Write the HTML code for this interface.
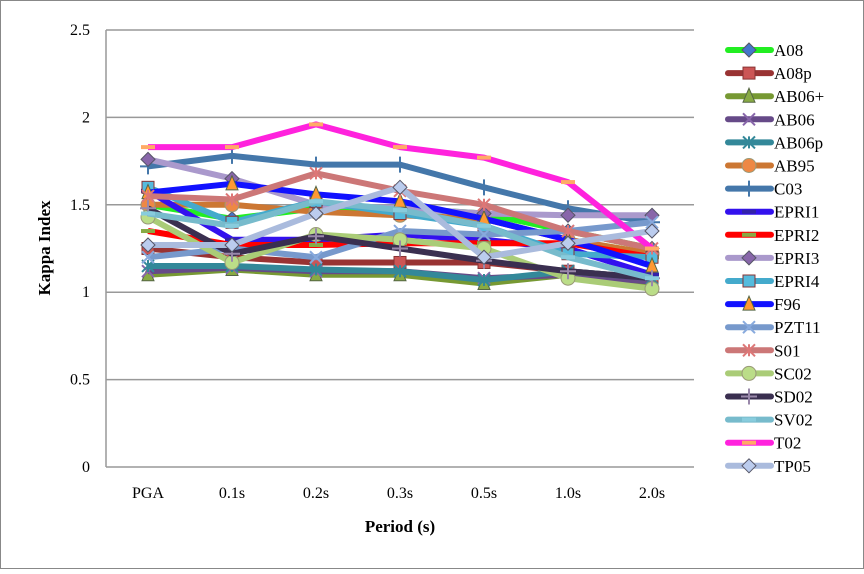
<!DOCTYPE html>
<html><head><meta charset="utf-8">
<style>
body{margin:0;background:#fff;}
svg text{font-family:"Liberation Serif",serif;}
</style></head>
<body>
<svg id="chart" width="864" height="569" viewBox="0 0 864 569" xmlns="http://www.w3.org/2000/svg">
<rect x="0.5" y="0.5" width="863" height="568" fill="#fff" stroke="#888"/>
<g id="grid"></g>
<g id="series"></g>
<g id="axes"></g>
<g id="legend"></g>
</svg>
<script>
const categories=["PGA","0.1s","0.2s","0.3s","0.5s","1.0s","2.0s"];
const yTicks=[0,0.5,1,1.5,2,2.5];
const yTickLabels=["0","0.5","1","1.5","2","2.5"];
const seriesNames=["A08","A08p","AB06+","AB06","AB06p","AB95","C03","EPRI1","EPRI2","EPRI3","EPRI4","F96","PZT11","S01","SC02","SD02","SV02","T02","TP05"];
const sA08=[1.50,1.42,1.48,1.48,1.45,1.35,1.25];
const sA08p=[1.25,1.20,1.17,1.17,1.17,1.12,1.08];
const sAB06plus=[1.10,1.13,1.10,1.10,1.05,1.10,1.04];
const sAB06=[1.12,1.14,1.12,1.12,1.08,1.10,1.06];
const sAB06p=[1.15,1.15,1.13,1.12,1.07,1.12,1.08];
const sAB95=[1.50,1.50,1.46,1.44,1.42,1.30,1.22];
const sC03=[1.72,1.78,1.73,1.73,1.60,1.48,1.40];
const sEPRI1=[1.58,1.30,1.30,1.33,1.30,1.25,1.10];
const sEPRI2=[1.35,1.27,1.27,1.28,1.28,1.28,1.20];
const sEPRI3=[1.76,1.65,1.50,1.48,1.45,1.44,1.44];
const sEPRI4=[1.60,1.40,1.52,1.45,1.38,1.22,1.20];
const sF96=[1.57,1.62,1.56,1.52,1.42,1.30,1.15];
const sPZT11=[1.20,1.25,1.20,1.35,1.33,1.35,1.40];
const sS01=[1.55,1.53,1.68,1.58,1.50,1.35,1.25];
const sSC02=[1.43,1.17,1.33,1.30,1.25,1.08,1.02];
const sSD02=[1.48,1.22,1.32,1.25,1.18,1.12,1.08];
const sSV02=[1.45,1.38,1.52,1.47,1.38,1.20,1.08];
const sT02=[1.83,1.83,1.96,1.83,1.77,1.63,1.25];
const sTP05=[1.27,1.27,1.45,1.60,1.20,1.28,1.35];
const seriesValues=[sA08,sA08p,sAB06plus,sAB06,sAB06p,sAB95,sC03,sEPRI1,sEPRI2,sEPRI3,sEPRI4,sF96,sPZT11,sS01,sSC02,sSD02,sSV02,sT02,sTP05];
const colors=["#22ee22","#993333","#779933","#664a88","#338899","#cc7733","#4477aa","#3311ee","#ff0000","#aa99cc","#44aacc","#1111ff","#7799cc","#cc7777","#aacc77","#3a2f50","#77bbcc","#ff22dd","#aabbdd"];
const markers=["diamond","square","triangle","x","star","circle","plus","dash","dash","diamond","square","triangle","x","star","circle","plus","dash","dash","diamond"];
const mcol=["#4477cc","#cc5555","#88aa44","#8866aa","#338899","#ee8844","#4477aa","#3322aa","#88aa44","#8866aa","#55bbdd","#ff9933","#88aadd","#dd7777","#bbdd88","#9988aa","#88ccdd","#ffaa66","#bbccee"];
const NS="http://www.w3.org/2000/svg";
const x0=106,x1=694,yTop=30,yBot=467,yMax=2.5;
function xPos(i){return x0+(x1-x0)*(i+0.5)/categories.length;}
function yPos(v){return yBot-(v/yMax)*(yBot-yTop);}
function mk(tag,attrs,parent){const e=document.createElementNS(NS,tag);for(const k in attrs)e.setAttribute(k,attrs[k]);parent.appendChild(e);return e;}
const grid=document.getElementById('grid'),axes=document.getElementById('axes'),ser=document.getElementById('series'),leg=document.getElementById('legend');
yTicks.forEach((t,i)=>{
 const g=mk('line',{x1:x0,x2:x1,y1:yPos(t),y2:yPos(t),stroke:'#999','stroke-width':1.5},grid);
 
 
 const l=mk('text',{x:x0-16,y:yPos(t)+5,'text-anchor':'end','font-size':16,fill:'#000'},axes);
 l.textContent=yTickLabels[i];
 
 
});
const ya=mk('line',{x1:x0,x2:x0,y1:yTop,y2:yBot,stroke:'#999','stroke-width':1.5},axes);


categories.forEach((c,i)=>{
 const l=mk('text',{x:xPos(i),y:yBot+31,'text-anchor':'middle','font-size':16},axes);
 l.textContent=c;
 
 
});
const xt=mk('text',{x:400,y:532,'text-anchor':'middle','font-size':17,'font-weight':'bold'},axes);
xt.textContent='Period (s)';


const yt=mk('text',{x:0,y:0,'text-anchor':'middle','font-size':17,'font-weight':'bold',transform:'translate(50,248) rotate(-90)'},axes);
yt.textContent='Kappa Index';


function marker(type,cx,cy,col,lc,parent){
 const s=6;let e;
 if(type==='diamond')e=mk('polygon',{points:`${cx},${cy-s-1} ${cx+s+1},${cy} ${cx},${cy+s+1} ${cx-s-1},${cy}`,fill:col,stroke:'#556'},parent);
 else if(type==='square')e=mk('rect',{x:cx-s,y:cy-s,width:2*s,height:2*s,fill:col,stroke:'#833'},parent);
 else if(type==='triangle')e=mk('polygon',{points:`${cx},${cy-s-2} ${cx+s},${cy+s} ${cx-s},${cy+s}`,fill:col,stroke:'#564'},parent);
 else if(type==='circle')e=mk('circle',{cx:cx,cy:cy,r:s+1,fill:col,stroke:'#997'},parent);
 else if(type==='x')e=mk('path',{d:`M${cx-s} ${cy-s}L${cx+s} ${cy+s}M${cx-s} ${cy+s}L${cx+s} ${cy-s}`,stroke:col,'stroke-width':2},parent);
 else if(type==='star')e=mk('path',{d:`M${cx-s} ${cy-s}L${cx+s} ${cy+s}M${cx-s} ${cy+s}L${cx+s} ${cy-s}M${cx} ${cy-s}L${cx} ${cy+s}`,stroke:col,'stroke-width':2},parent);
 else if(type==='plus')e=mk('path',{d:`M${cx-s-2} ${cy}L${cx+s+2} ${cy}M${cx} ${cy-s-2}L${cx} ${cy+s+2}`,stroke:col,'stroke-width':2},parent);
 else e=mk('rect',{x:cx-7,y:cy-2,width:14,height:4,fill:col},parent);
 return e;
}
seriesValues.forEach((vals,si)=>{
 const g=mk('g',{},ser);
 
 
 const pts=vals.map((v,i)=>xPos(i)+','+yPos(v)).join(' ');
 const pl=mk('polyline',{points:pts,fill:'none',stroke:colors[si],'stroke-width':6,'stroke-linejoin':'round'},g);
 
 
 vals.forEach((v,i)=>{
  const m=marker(markers[si],xPos(i),yPos(v),mcol[si],colors[si],g);
  
  
 });
 const ly=50+si*23.1;
 const lg=mk('g',{},leg);
 
 
 mk('line',{x1:728,x2:771,y1:ly,y2:ly,stroke:colors[si],'stroke-width':6,'stroke-linecap':'round'},lg);
 marker(markers[si],749,ly,mcol[si],colors[si],lg);
 const t=mk('text',{x:774,y:ly+6,'font-size':17},lg);
 t.textContent=seriesNames[si];
});
</script>
</body></html>
